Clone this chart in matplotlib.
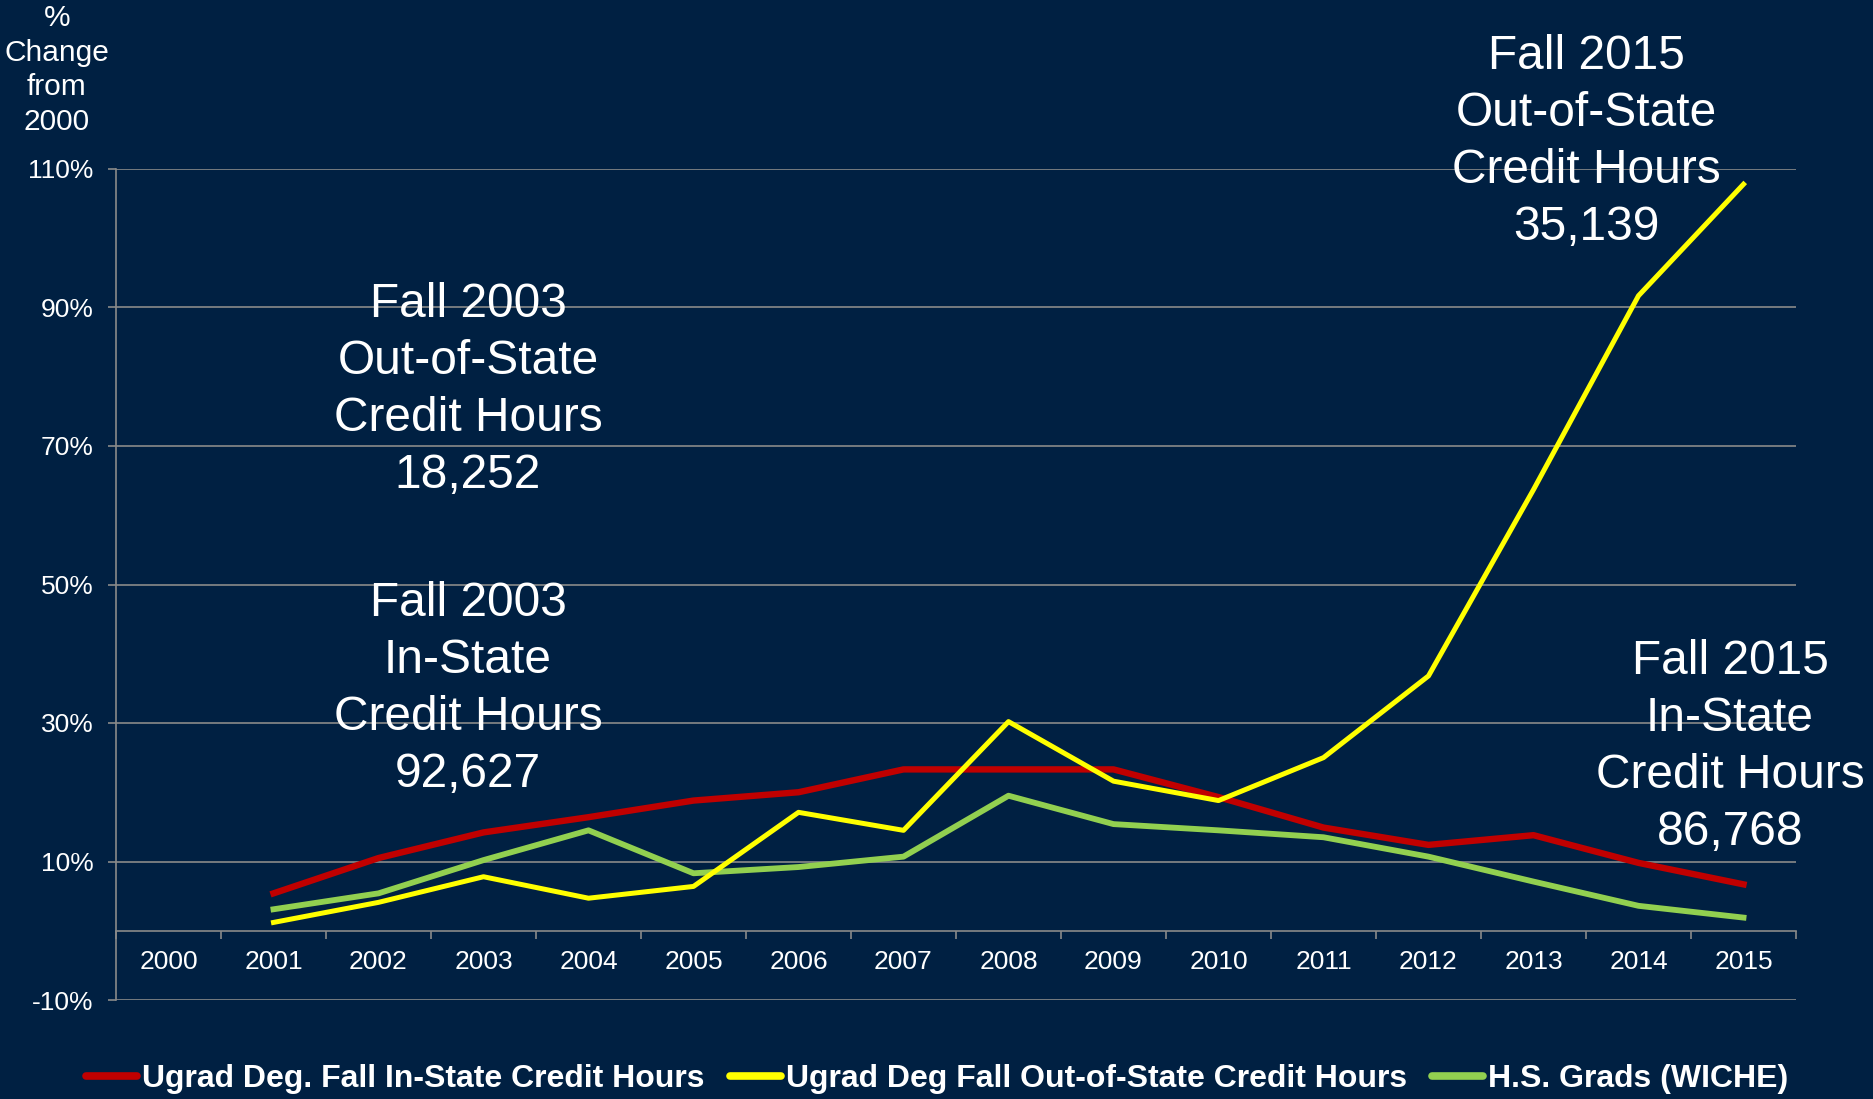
import matplotlib
matplotlib.use('Agg')
import matplotlib.pyplot as plt
import numpy as np

plt.rcParams['font.family'] = ['Liberation Sans', 'DejaVu Sans']

# data (% change from 2000)
years = ['2000', '2001', '2002', '2003', '2004', '2005', '2006', '2007',
         '2008', '2009', '2010', '2011', '2012', '2013', '2014', '2015']
in_state = [np.nan, 5.4, 10.5, 14.2, 16.4, 18.8, 20.0, 23.3,
            23.3, 23.3, 19.3, 14.9, 12.4, 13.8, 9.8, 6.7]
out_state = [np.nan, 1.2, 4.1, 7.8, 4.7, 6.4, 17.1, 14.5,
             30.2, 21.6, 18.8, 25.0, 36.8, 63.7, 91.7, 107.8]
hs_grads = [np.nan, 3.1, 5.4, 10.2, 14.5, 8.3, 9.2, 10.7,
            19.5, 15.4, 14.5, 13.5, 10.7, 7.1, 3.6, 1.9]
yticks = [-10, 10, 30, 50, 70, 90, 110]

bg = '#002042'
grid_c = '#8a8a8a'
W, H = 1874, 1099

fig = plt.figure(figsize=(W / 100, H / 100), dpi=100, facecolor=bg)
ax = fig.add_axes([116 / W, 1 - 1000 / H, (1796 - 116) / W, (1000 - 169) / H])
ax.set_facecolor(bg)

x = np.arange(len(years))
l1, = ax.plot(x, in_state, color='#c00000', lw=4.6, solid_joinstyle='round',
              label='Ugrad Deg. Fall In-State Credit Hours', zorder=3)
l2, = ax.plot(x, out_state, color='#ffff00', lw=3.6, solid_joinstyle='round',
              label='Ugrad Deg Fall Out-of-State Credit Hours', zorder=4)
l3, = ax.plot(x, hs_grads, color='#92d050', lw=4.2, solid_joinstyle='round',
              label='H.S. Grads (WICHE)', zorder=3)

ax.set_xlim(-0.5, len(years) - 0.5)
ax.set_ylim(-10, 110)
ax.set_yticks(yticks)
ax.set_yticklabels(['%d%%' % v for v in yticks])
ax.yaxis.grid(True, color=grid_c, lw=1.2)
ax.set_axisbelow(True)

for s in ['top', 'right']:
    ax.spines[s].set_visible(False)
ax.spines['left'].set_color(grid_c)
ax.spines['left'].set_linewidth(1.2)
ax.spines['bottom'].set_position(('data', 0))
ax.spines['bottom'].set_color(grid_c)
ax.spines['bottom'].set_linewidth(1.2)

# category boundaries as ticks, labels centred in each slot
ax.set_xticks(np.arange(-0.5, len(years), 1.0))
ax.set_xticklabels([])
ax.set_xticks(x, minor=True)
ax.set_xticklabels(years, minor=True)
ax.tick_params(axis='x', which='major', length=6, width=1.2, color=grid_c, direction='out')
ax.tick_params(axis='x', which='minor', length=0, pad=14, labelsize=19, labelcolor='white')
ax.tick_params(axis='y', length=6, width=1.2, color=grid_c, pad=10,
               labelsize=19, labelcolor='white')

fig.text(57 / W, 1 - 70 / H, '%\nChange\nfrom\n2000', color='white', fontsize=21.5,
         ha='center', va='center', linespacing=1.3)

notes = [
    (468, 390, 'Fall 2003\nOut-of-State\nCredit Hours\n18,252'),
    (468, 689, 'Fall 2003\nIn-State\nCredit Hours\n92,627'),
    (1586, 142, 'Fall 2015\nOut-of-State\nCredit Hours\n35,139'),
    (1730, 747, 'Fall 2015\nIn-State\nCredit Hours\n86,768'),
]
for px, py, txt in notes:
    fig.text(px / W, 1 - py / H, txt, color='white', fontsize=34.5,
             ha='center', va='center', multialignment='center', linespacing=1.34)

leg = fig.legend(handles=[l1, l2, l3], loc='center', bbox_to_anchor=(0.5, 1 - 1079 / H),
                 ncol=3, frameon=False, handlelength=1.6, handletextpad=0.15,
                 columnspacing=0.8, prop={'weight': 'bold', 'size': 23})
for t in leg.get_texts():
    t.set_color('white')
for h in leg.legend_handles:
    h.set_linewidth(5.5)
    h.set_solid_capstyle('round')

plt.savefig('out.png', dpi=100, facecolor=bg)
